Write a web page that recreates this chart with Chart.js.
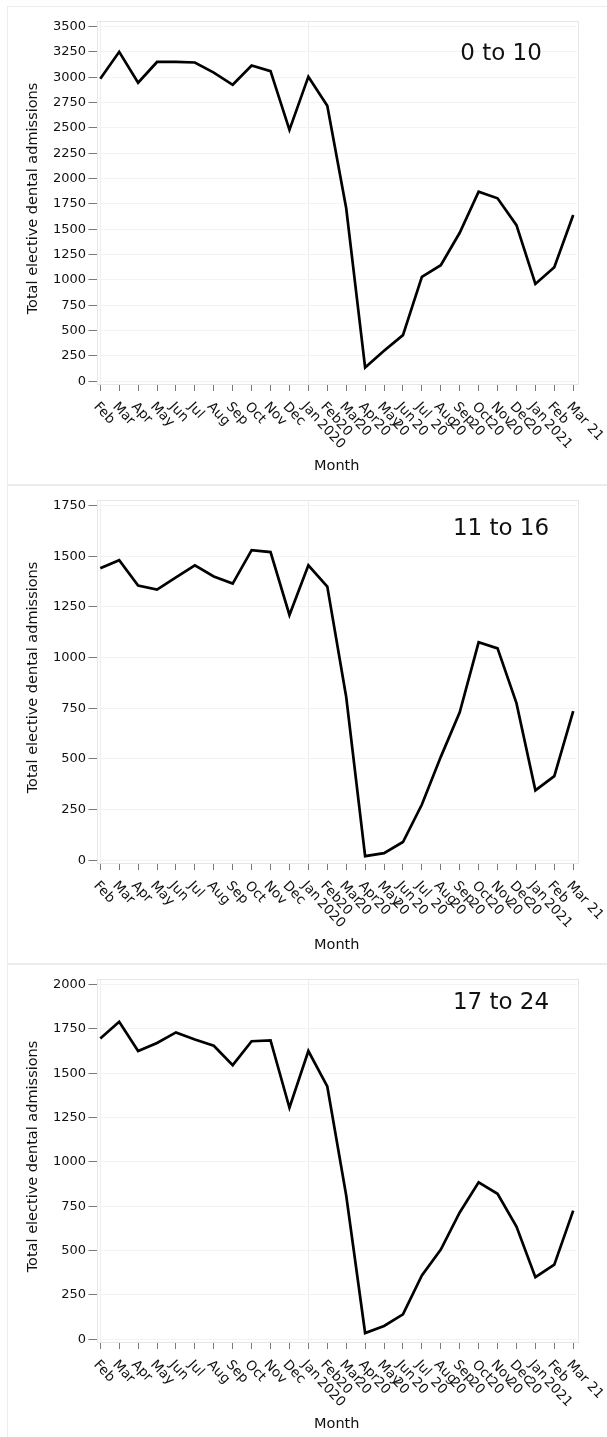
<!DOCTYPE html>
<html><head><meta charset="utf-8">
<script src="https://cdn.jsdelivr.net/npm/chart.js@4.4.1/dist/chart.umd.min.js"></script>
<style>
html,body{margin:0;padding:0;background:#fff;width:607px;height:1437px;overflow:hidden;}
.panel{position:absolute;left:7px;width:620px;height:479px;border:1px solid #ececec;box-sizing:border-box;background:#fff;}
.panel canvas{position:absolute;left:0;top:0;}
</style></head><body>
<div class="panel" style="top:6px"><canvas id="c0" width="600" height="477"></canvas></div>
<div class="panel" style="top:485px"><canvas id="c1" width="600" height="477"></canvas></div>
<div class="panel" style="top:964px"><canvas id="c2" width="600" height="477"></canvas></div>
<script>
const monthLabels = [["Feb"],["Mar"],["Apr"],["May"],["Jun"],["Jul"],["Aug"],["Sep"],["Oct"],["Nov"],["Dec"],["Jan"],
  ["Feb","2020"],["Mar","20"],["Apr","20"],["May","20"],["Jun","20"],["Jul","20"],["Aug","20"],["Sep","20"],
  ["Oct","20"],["Nov","20"],["Dec","20"],["Jan","20"],["Feb","2021"],["Mar 21"]];

const age0to10  = [2985,3250,2945,3150,3150,3145,3045,2925,3115,3060,2480,3005,2717,1706,135,300,455,1030,1145,1465,1870,1805,1540,960,1125,1640];
const age11to16 = [1440,1480,1355,1335,1395,1455,1400,1365,1530,1520,1210,1455,1350,805,20,35,90,275,510,730,1075,1045,775,345,415,735];
const age17to24 = [1695,1790,1625,1670,1730,1690,1655,1545,1680,1685,1305,1625,1425,810,35,75,140,360,505,715,885,820,635,350,420,725];

const yTicks0 = [0,250,500,750,1000,1250,1500,1750,2000,2250,2500,2750,3000,3250,3500];
const yTicks1 = [0,250,500,750,1000,1250,1500,1750];
const yTicks2 = [0,250,500,750,1000,1250,1500,1750,2000];

const panelTitles = ["0 to 10","11 to 16","17 to 24"];
const yTitle = "Total elective dental admissions";
const xTitle = "Month";

Chart.defaults.font.family = "'DejaVu Sans', Verdana, sans-serif";

const framePlugin = {
  id:'frame',
  beforeDatasetsDraw(chart){
    const ca = chart.chartArea, ctx = chart.ctx;
    ctx.save();
    ctx.strokeStyle = '#e6e6e6'; ctx.lineWidth = 1;
    ctx.strokeRect(Math.round(ca.left)+0.5, Math.round(ca.top)+0.5, Math.round(ca.right-ca.left), Math.round(ca.bottom-ca.top));
    ctx.restore();
  }
};

const xLabelPlugin = {
  id:'xlabels',
  afterDraw(chart){
    const xs = chart.scales.x, ca = chart.chartArea, ctx = chart.ctx;
    ctx.save();
    ctx.font = "13.5px 'DejaVu Sans'";
    ctx.fillStyle = '#111';
    ctx.textAlign = 'left'; ctx.textBaseline = 'alphabetic';
    monthLabels.forEach((lines,i)=>{
      const px = xs.getPixelForValue(i);
      ctx.save();
      ctx.translate(px - 7, ca.bottom + 23);
      ctx.rotate(Math.PI*0.26);
      lines.forEach((ln,j)=>{ ctx.fillText(ln, j*10, j*14.5); });
      ctx.restore();
    });
    ctx.restore();
  }
};

const yTitlePlugin = {
  id:'ytitle',
  afterDraw(chart){
    const ca = chart.chartArea, ctx = chart.ctx;
    ctx.save();
    ctx.font = "14.5px 'DejaVu Sans'";
    ctx.fillStyle = '#111';
    ctx.textAlign = 'center'; ctx.textBaseline = 'middle';
    ctx.translate(25, (ca.top + ca.bottom)/2 - 4);
    ctx.rotate(-Math.PI/2);
    ctx.fillText(yTitle, 0, 0);
    ctx.restore();
  }
};

const panelLabelPlugin = {
  id:'panelLabel',
  afterDraw(chart, args, opts){
    const ca = chart.chartArea, ctx = chart.ctx;
    ctx.save();
    ctx.font = "23px 'DejaVu Sans'";
    ctx.fillStyle = '#111';
    ctx.textAlign = 'center'; ctx.textBaseline = 'alphabetic';
    ctx.fillText(opts.text, ca.right - 76, ca.top + opts.dy);
    ctx.restore();
  }
};

function makeChart(id, values, yTicks, label, labelDy){
  const top = yTicks[yTicks.length-1];
  return new Chart(document.getElementById(id), {
    type:'line',
    data:{ datasets:[{ data: values.map((v,i)=>({x:i,y:v})), borderColor:'#000', borderWidth:2.7,
      pointRadius:0, tension:0, borderJoinStyle:'miter', fill:false }]},
    options:{
      responsive:false, animation:false, devicePixelRatio:1,
      layout:{padding:{top:14,bottom:9,left:0,right:31}},
      plugins:{ legend:{display:false}, tooltip:{enabled:false}, panelLabel:{text:label, dy:labelDy} },
      scales:{
        x:{ type:'linear', min:-0.2, max:25.2,
          afterBuildTicks(s){ s.ticks = monthLabels.map((_,i)=>({value:i})); },
          afterFit(s){ s.height = 91; },
          ticks:{display:false},
          grid:{ color: c => (c.tick && (c.tick.value===0 || c.tick.value===11)) ? '#ededed' : 'rgba(0,0,0,0)',
                 tickColor:'#7a7a7a', tickLength:7 },
          border:{display:false},
          title:{display:true, text:xTitle, font:{size:14.5}, color:'#111', padding:0}
        },
        y:{ min:-top*0.0078, max:top*1.0155,
          afterBuildTicks(s){ s.ticks = yTicks.map(v=>({value:v})); },
          afterFit(s){ s.width = 88.5; },
          ticks:{ font:{size:13}, color:'#111', padding:2.5, callback:v=>String(v) },
          grid:{ color:'#f3f3f3', tickColor:'#7a7a7a', tickLength:8 },
          border:{display:false},
          title:{display:false, text:yTitle}
        }
      }
    },
    plugins:[framePlugin, xLabelPlugin, yTitlePlugin, panelLabelPlugin]
  });
}

makeChart('c0', age0to10, yTicks0, panelTitles[0], 38.7);
makeChart('c1', age11to16, yTicks1, panelTitles[1], 35);
makeChart('c2', age17to24, yTicks2, panelTitles[2], 30.3);
</script>
</body></html>
